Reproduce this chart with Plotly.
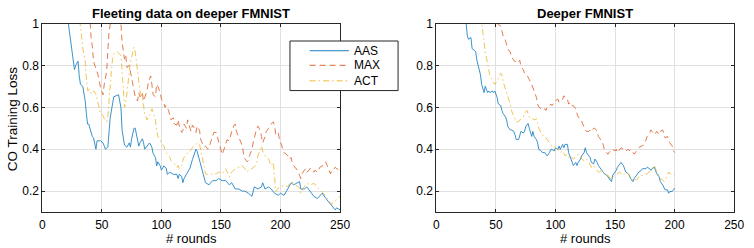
import plotly.graph_objects as go

# ---------------- data: left panel "Fleeting data on deeper FMNIST" ----------------
left_aas_rounds = [20,22,25,27,28,30,31,32,34,36,37,38,39,41,42,43,45,46,49,51,53,55,57,60,63,64,66,67,69,71,73,74,75,77,78,80,81,82,84,85,86,88,90,92,93,95,96,97,99,100,102,104,105,107,110,113,114,115,117,118,119,121,124,126,129,130,132,134,137,140,143,146,148,151,154,157,159,162,165,168,170,173,176,178,181,184,185,187,190,192,195,198,200,203,206,209,211,214,216,217,220,222,225,228,231,233,235,238,240,243,246,247,250]
left_aas_loss = [1.08,1.0,0.86,0.78,0.80,0.82,0.75,0.71,0.70,0.63,0.57,0.52,0.52,0.48,0.46,0.455,0.40,0.44,0.44,0.43,0.40,0.41,0.55,0.65,0.66,0.66,0.60,0.49,0.42,0.41,0.43,0.41,0.45,0.50,0.50,0.43,0.415,0.43,0.45,0.43,0.40,0.415,0.43,0.41,0.38,0.36,0.32,0.34,0.32,0.30,0.32,0.31,0.28,0.29,0.28,0.28,0.26,0.28,0.27,0.24,0.26,0.28,0.31,0.35,0.40,0.39,0.35,0.30,0.24,0.23,0.25,0.25,0.26,0.25,0.25,0.23,0.24,0.21,0.21,0.20,0.20,0.19,0.175,0.22,0.21,0.22,0.24,0.21,0.22,0.21,0.19,0.18,0.19,0.18,0.21,0.24,0.23,0.24,0.245,0.21,0.21,0.22,0.20,0.175,0.165,0.18,0.19,0.165,0.15,0.13,0.11,0.12,0.11]

left_max_rounds = [38,40,41,42,43,45,47,48,49,51,52,54,55,56,58,62,65,66,67,69,70,71,73,74,75,77,78,80,81,82,84,85,86,88,89,91,92,93,95,96,97,99,100,102,103,104,106,107,108,110,111,113,114,115,117,118,119,121,122,124,125,126,128,129,130,132,133,135,136,137,139,140,141,143,144,146,147,148,150,151,152,154,155,157,158,159,161,162,163,165,166,168,169,170,172,173,174,176,177,179,180,181,183,184,185,187,188,190,191,192,194,195,196,198,199,200,202,203,205,206,207,209,210,211,213,214,216,217,218,220,221,222,224,225,227,228,229,231,232,233,235,236,238,239,240,242,243,244,246,247,250]
left_max_loss = [1.1,1.02,0.93,0.89,0.82,0.79,0.75,0.72,0.69,0.66,0.71,0.77,0.88,0.96,1.03,1.1,1.03,1.0,0.91,0.83,0.85,0.79,0.80,0.77,0.73,0.68,0.65,0.63,0.67,0.65,0.67,0.63,0.65,0.68,0.72,0.75,0.71,0.66,0.65,0.71,0.70,0.67,0.64,0.62,0.60,0.61,0.585,0.56,0.54,0.55,0.52,0.515,0.54,0.51,0.48,0.49,0.52,0.50,0.54,0.50,0.485,0.515,0.50,0.48,0.51,0.49,0.445,0.42,0.41,0.415,0.40,0.41,0.43,0.46,0.48,0.48,0.46,0.43,0.40,0.375,0.39,0.43,0.445,0.44,0.47,0.485,0.515,0.52,0.485,0.46,0.445,0.415,0.376,0.355,0.34,0.345,0.37,0.40,0.43,0.48,0.50,0.51,0.49,0.46,0.43,0.46,0.485,0.50,0.515,0.52,0.53,0.51,0.47,0.48,0.45,0.43,0.40,0.384,0.376,0.37,0.353,0.36,0.33,0.322,0.307,0.30,0.276,0.26,0.283,0.30,0.307,0.29,0.30,0.31,0.30,0.29,0.30,0.29,0.30,0.314,0.32,0.33,0.34,0.32,0.307,0.283,0.30,0.30,0.314,0.307,0.30]

left_act_rounds = [30,32,33,34,36,37,38,40,41,43,44,45,47,48,49,51,52,54,55,56,57,58,59,60,63,65,66,67,68,69,70,71,72,73,74,76,77,78,80,81,82,84,85,86,88,89,91,92,93,95,96,97,99,100,102,103,104,106,107,108,110,111,113,114,115,117,118,119,121,122,124,125,126,128,129,130,132,133,135,136,137,139,140,143,146,148,151,154,155,157,158,159,162,165,168,170,172,173,176,179,180,181,183,184,185,187,190,192,194,195,196,198,200,203,206,209,211,214,216,217,218,220,222,225,228,231,233,236,239,242,243,245,247,250]
left_act_loss = [1.08,1.0,0.94,0.88,0.82,0.74,0.68,0.686,0.663,0.678,0.67,0.663,0.616,0.585,0.57,0.562,0.546,0.531,0.554,0.632,0.724,0.771,0.833,0.856,0.864,0.856,0.848,0.771,0.678,0.60,0.616,0.663,0.724,0.771,0.817,0.864,0.887,0.864,0.771,0.709,0.678,0.647,0.616,0.57,0.539,0.554,0.57,0.593,0.577,0.539,0.492,0.461,0.446,0.43,0.415,0.399,0.384,0.368,0.361,0.345,0.337,0.33,0.314,0.322,0.307,0.322,0.345,0.361,0.376,0.384,0.392,0.399,0.407,0.415,0.423,0.43,0.423,0.399,0.353,0.314,0.283,0.276,0.276,0.283,0.283,0.291,0.283,0.307,0.291,0.268,0.276,0.291,0.307,0.314,0.322,0.307,0.291,0.299,0.307,0.322,0.337,0.368,0.399,0.415,0.392,0.368,0.353,0.322,0.337,0.237,0.198,0.214,0.221,0.229,0.221,0.245,0.237,0.221,0.214,0.19,0.206,0.221,0.237,0.229,0.237,0.221,0.206,0.19,0.167,0.144,0.136,0.152,0.159,0.175]

# ---------------- data: right panel "Deeper FMNIST" ----------------
right_aas_rounds = [22,25,26,27,29,30,32,33,34,36,37,38,40,41,43,44,45,47,48,49,51,52,54,55,56,58,59,60,62,63,65,66,67,69,70,71,73,74,75,77,78,80,81,82,84,85,86,88,89,91,92,93,95,96,97,99,100,102,103,104,106,107,108,110,111,113,114,115,117,118,119,121,122,124,125,126,128,129,130,132,133,135,136,137,139,140,141,143,144,146,147,148,150,151,152,154,155,157,158,159,161,162,163,165,166,168,169,170,172,173,175,176,177,179,180,181,183,184,185,187,188,190,191,192,194,195,196,198,199,200]
right_aas_loss = [1.1,1.0,0.94,0.925,0.933,0.88,0.872,0.864,0.825,0.779,0.755,0.709,0.67,0.701,0.67,0.678,0.67,0.678,0.67,0.678,0.647,0.616,0.608,0.585,0.57,0.554,0.539,0.508,0.492,0.492,0.485,0.469,0.446,0.446,0.469,0.485,0.477,0.485,0.508,0.523,0.50,0.461,0.485,0.461,0.446,0.43,0.399,0.392,0.384,0.384,0.376,0.368,0.384,0.399,0.399,0.392,0.407,0.399,0.415,0.399,0.423,0.407,0.423,0.423,0.384,0.353,0.337,0.322,0.337,0.322,0.337,0.353,0.368,0.384,0.407,0.384,0.368,0.361,0.337,0.33,0.353,0.337,0.322,0.314,0.299,0.291,0.283,0.276,0.268,0.252,0.245,0.276,0.291,0.299,0.314,0.33,0.337,0.322,0.307,0.291,0.283,0.276,0.26,0.245,0.26,0.276,0.283,0.291,0.299,0.307,0.307,0.307,0.314,0.307,0.299,0.307,0.314,0.299,0.283,0.268,0.245,0.229,0.214,0.206,0.206,0.19,0.198,0.198,0.206,0.214]

right_max_rounds = [48,51,52,54,55,56,58,59,60,62,63,65,66,67,69,70,71,73,74,76,77,78,80,81,82,84,85,86,88,89,91,92,93,95,96,97,99,100,102,103,104,106,107,108,110,111,113,114,115,117,118,119,121,122,124,125,126,128,129,130,132,133,135,136,137,139,140,141,143,144,146,147,148,150,151,152,154,155,157,158,159,161,162,163,165,166,168,169,170,172,173,175,176,177,179,180,181,183,184,185,187,188,190,191,192,194,195,196,198,199,200]
right_max_loss = [1.1,1.0,0.995,0.988,0.964,0.941,0.918,0.895,0.879,0.864,0.841,0.825,0.817,0.825,0.817,0.825,0.794,0.779,0.763,0.755,0.74,0.732,0.709,0.693,0.67,0.647,0.616,0.601,0.593,0.585,0.593,0.585,0.601,0.608,0.616,0.608,0.624,0.632,0.639,0.624,0.632,0.639,0.655,0.647,0.639,0.616,0.624,0.608,0.608,0.593,0.57,0.554,0.546,0.531,0.508,0.492,0.485,0.485,0.492,0.485,0.50,0.50,0.485,0.461,0.454,0.43,0.423,0.399,0.384,0.376,0.392,0.399,0.399,0.392,0.399,0.384,0.399,0.407,0.399,0.399,0.392,0.399,0.392,0.399,0.384,0.376,0.392,0.399,0.407,0.415,0.415,0.43,0.446,0.461,0.477,0.492,0.485,0.469,0.477,0.485,0.469,0.485,0.492,0.469,0.454,0.461,0.446,0.43,0.415,0.392,0.384]

right_act_rounds = [36,38,40,41,43,44,45,47,48,49,51,52,54,55,56,58,59,60,62,63,65,66,67,69,70,71,73,74,76,77,78,80,81,82,84,85,86,88,89,91,92,93,95,96,97,99,100,102,103,104,106,107,108,110,111,113,114,115,117,118,119,121,122,124,125,126,128,129,130,132,133,135,136,137,139,140,141,143,144,146,147,148,150,151,152,154,155,157,158,159,161,162,163,165,166,168,169,170,172,173,175,176,177,179,180,181,183,184,185,187,188,190,191,192,194,195,196,198,199,200]
right_act_loss = [1.1,1.0,0.926,0.864,0.81,0.771,0.748,0.732,0.717,0.709,0.724,0.74,0.763,0.755,0.724,0.686,0.67,0.647,0.616,0.585,0.562,0.546,0.531,0.531,0.539,0.546,0.554,0.57,0.585,0.57,0.554,0.546,0.546,0.539,0.546,0.523,0.50,0.477,0.469,0.454,0.454,0.446,0.43,0.423,0.415,0.415,0.407,0.399,0.392,0.384,0.392,0.376,0.368,0.376,0.361,0.353,0.361,0.353,0.361,0.368,0.376,0.368,0.353,0.345,0.353,0.353,0.337,0.322,0.314,0.322,0.314,0.299,0.291,0.291,0.299,0.291,0.283,0.276,0.276,0.26,0.26,0.268,0.276,0.283,0.283,0.291,0.283,0.276,0.283,0.291,0.283,0.268,0.26,0.252,0.26,0.252,0.26,0.268,0.268,0.276,0.276,0.283,0.283,0.291,0.299,0.307,0.322,0.307,0.291,0.276,0.26,0.252,0.245,0.252,0.276,0.291,0.283,0.276,0.276,0.276]

series_names = ["AAS", "MAX", "ACT"]
series_colors = ["#0072BD", "#D95319", "#EDB120"]
series_dash = ["solid", "6px,4px", "6px,3px,1.5px,3px"]

x_ticks = [0, 50, 100, 150, 200, 250]
y_ticks = [0.2, 0.4, 0.6, 0.8, 1.0]
y_tick_labels = ["0.2", "0.4", "0.6", "0.8", "1"]

panel_titles = ["Fleeting data on deeper FMNIST", "Deeper FMNIST"]
x_title = "# rounds"
y_title = "CO Training Loss"

# ---------------- figure ----------------
W, H = 754, 248
FONT = "Liberation Sans, Arial, Helvetica, sans-serif"
AX = "#262626"
GRID = "#e0e0e0"

fig = go.Figure()

panels = [
    (left_aas_rounds, left_aas_loss, left_max_rounds, left_max_loss, left_act_rounds, left_act_loss),
    (right_aas_rounds, right_aas_loss, right_max_rounds, right_max_loss, right_act_rounds, right_act_loss),
]
for p, data in enumerate(panels):
    xa = "x" if p == 0 else "x2"
    ya = "y" if p == 0 else "y2"
    for s in range(3):
        fig.add_trace(go.Scatter(
            x=data[2 * s], y=data[2 * s + 1], mode="lines", name=series_names[s],
            line=dict(color=series_colors[s], width=0.9, dash=series_dash[s]),
            opacity=0.85,
            xaxis=xa, yaxis=ya, showlegend=False, cliponaxis=True,
        ))

def px_x(v):
    return v / W

def px_y(v):
    return 1 - v / H

ax_common = dict(
    showline=True, linecolor=AX, linewidth=1, mirror="ticks",
    ticks="inside", ticklen=3, tickcolor=AX, tickwidth=1,
    showgrid=True, gridcolor=GRID, gridwidth=1, zeroline=False,
    tickfont=dict(family=FONT, size=12, color="#000000"),
)
domains_x = [[px_x(40), px_x(343)], [px_x(441), px_x(744)]]
dom_y = [px_y(211), px_y(17)]

fig.update_layout(
    xaxis=dict(domain=domains_x[0], range=[0, 250], tickvals=x_ticks, anchor="y", ticklabelstandoff=2, **ax_common),
    yaxis=dict(domain=dom_y, range=[0.1, 1.0], tickvals=y_ticks, ticktext=y_tick_labels, anchor="x", **ax_common),
    xaxis2=dict(domain=domains_x[1], range=[0, 250], tickvals=x_ticks, anchor="y2", ticklabelstandoff=2, **ax_common),
    yaxis2=dict(domain=dom_y, range=[0.1, 1.0], tickvals=y_ticks, ticktext=y_tick_labels, anchor="x2", **ax_common),
    width=W, height=H, autosize=False,
    margin=dict(l=0, r=0, t=0, b=0),
    paper_bgcolor="white", plot_bgcolor="white",
    font=dict(family=FONT, size=12, color="#000000"),
    showlegend=False,
)

annotations = []
centers = [(40 + 343) / 2, (441 + 744) / 2]
for p in range(2):
    annotations.append(dict(
        text="<b>" + panel_titles[p] + "</b>", x=px_x(centers[p]), y=px_y(6.5),
        xref="paper", yref="paper", xanchor="center", yanchor="middle", showarrow=False,
        font=dict(family=FONT, size=13, color="#000000"),
    ))
    annotations.append(dict(
        text=x_title, x=px_x(centers[p]), y=px_y(248),
        xref="paper", yref="paper", xanchor="center", yanchor="bottom", showarrow=False,
        font=dict(family=FONT, size=13, color="#000000"),
    ))
annotations.append(dict(
    text=y_title, x=px_x(0), y=px_y(115), textangle=-90,
    xref="paper", yref="paper", xanchor="left", yanchor="middle", showarrow=False,
    font=dict(family=FONT, size=13.5, color="#000000"),
))

# legend (drawn as a box with sample lines and labels)
shapes = [dict(type="rect", xref="paper", yref="paper",
               x0=px_x(292), x1=px_x(402), y0=px_y(86), y1=px_y(35),
               line=dict(color=AX, width=1), fillcolor="white", layer="above")]
leg_y = [45, 60, 76]
for s in range(3):
    shapes.append(dict(type="line", xref="paper", yref="paper",
                       x0=px_x(312), x1=px_x(352), y0=px_y(leg_y[s]), y1=px_y(leg_y[s]),
                       line=dict(color=series_colors[s], width=0.9, dash=series_dash[s]), layer="above"))
    annotations.append(dict(
        text=series_names[s], x=px_x(355), y=px_y(leg_y[s]),
        xref="paper", yref="paper", xanchor="left", yanchor="middle", showarrow=False,
        font=dict(family=FONT, size=12, color="#000000"),
    ))

fig.update_layout(annotations=annotations, shapes=shapes)
fig.write_html(
    "out.html", config={"displayModeBar": False},
    post_script=(
        "document.documentElement.style.margin='0';"
        "document.body.style.margin='0';document.body.style.padding='0';"
        "document.body.style.overflow='hidden';"
        "var d=document.getElementById('{plot_id}');"
        "d.style.position='fixed';d.style.top='0px';d.style.left='0px';"
    ),
)
